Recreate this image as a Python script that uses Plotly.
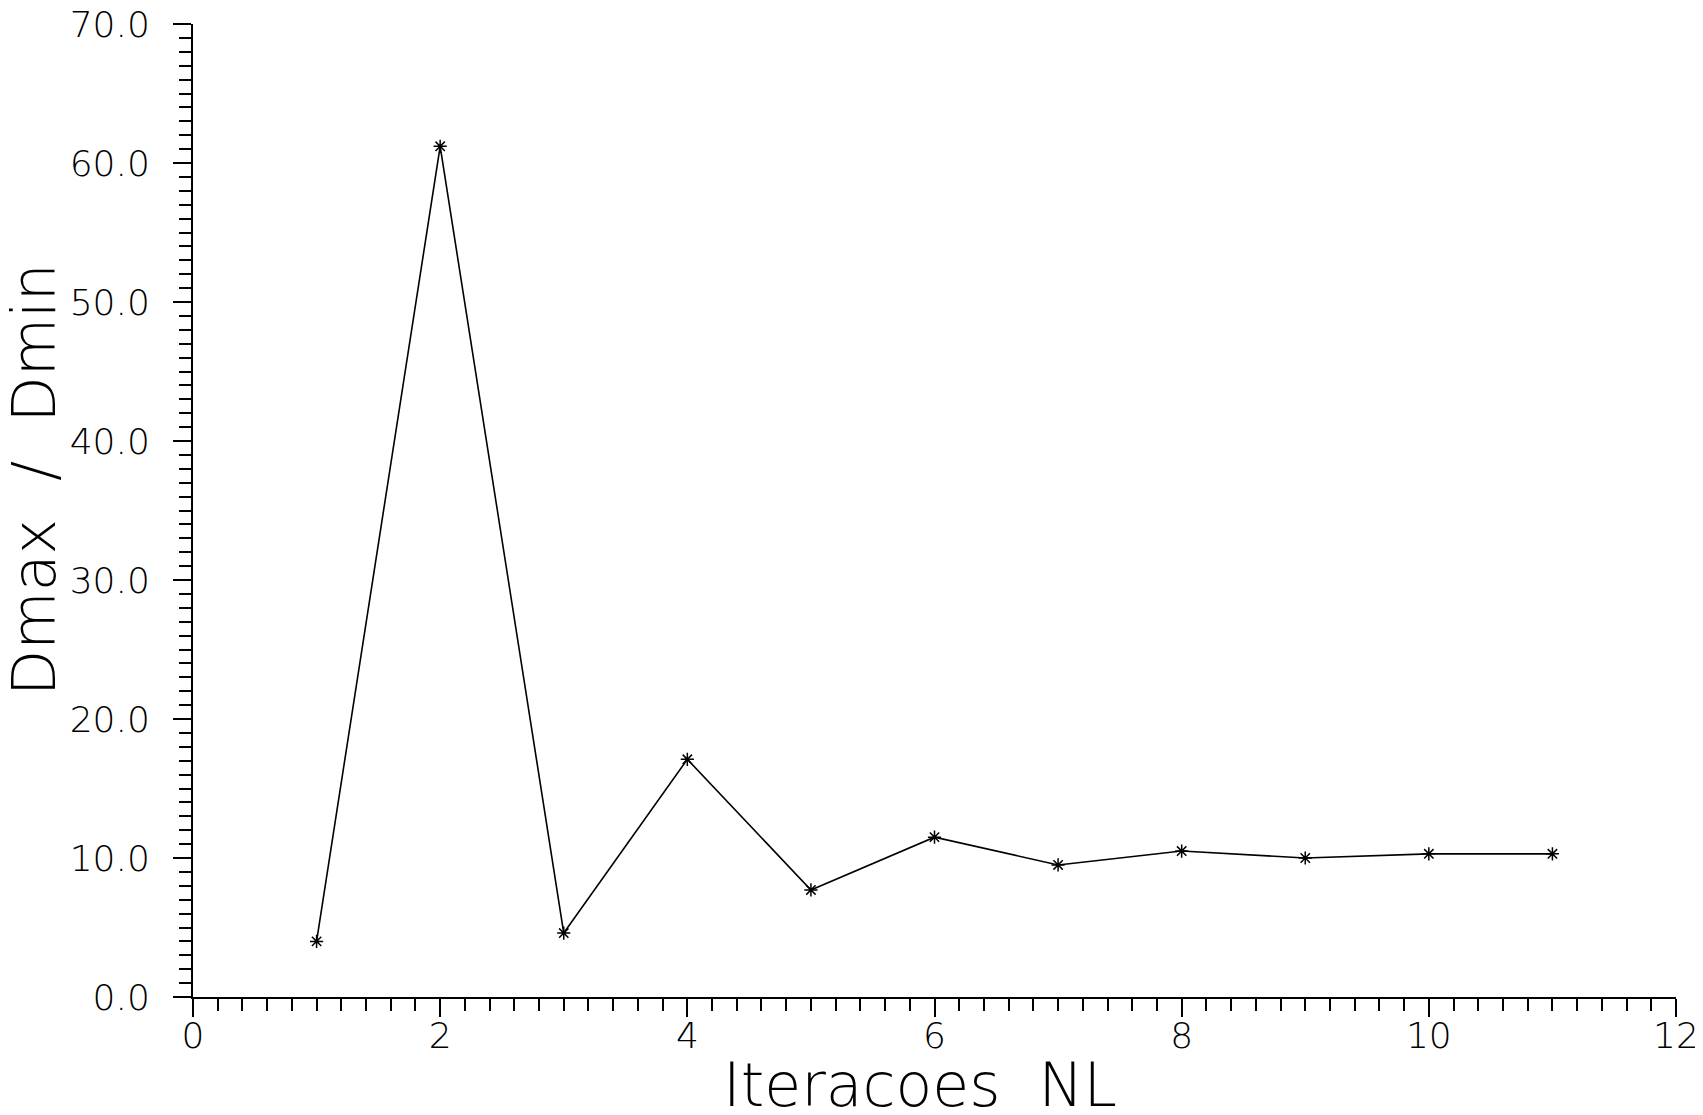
import plotly.graph_objects as go

iterations = [1, 2, 3, 4, 5, 6, 7, 8, 9, 10, 11]
dmax_dmin = [4.0, 61.2, 4.6, 17.1, 7.7, 11.5, 9.5, 10.5, 10.0, 10.3, 10.3]

x_ticks = [0, 2, 4, 6, 8, 10, 12]
y_ticks = [0, 10, 20, 30, 40, 50, 60, 70]
y_tick_labels = ["0.0", "10.0", "20.0", "30.0", "40.0", "50.0", "60.0", "70.0"]

x_title = "Iteracoes  NL"
y_title = "Dmax  /  Dmin"

# plot-area edges on the page (px)
L, R, T, B = 193, 1676, 24, 997

fig = go.Figure()
fig.add_trace(go.Scatter(
    x=iterations, y=dmax_dmin, mode="lines+markers",
    line=dict(color="black", width=1.6),
    marker=dict(symbol="asterisk-open", size=11, color="black",
                line=dict(color="black", width=1.5)),
    showlegend=False, hoverinfo="skip",
))

tickfont = dict(family="DejaVu Sans", size=36, color="black", weight=200)

fig.update_layout(
    width=1703, height=1115,
    paper_bgcolor="white", plot_bgcolor="white",
    margin=dict(l=L - 8, r=1703 + 8 - R, t=T - 8, b=1115 + 8 - B, autoexpand=False),
    xaxis=dict(
        range=[0, 12], tickmode="array", tickvals=x_ticks,
        ticktext=[str(v) for v in x_ticks], automargin=False,
        ticklabeloverflow="allow",
        showgrid=False, zeroline=False, showline=True, linecolor="black", linewidth=2,
        ticks="outside", ticklen=18, tickwidth=2, tickcolor="black",
        tickfont=tickfont, ticklabelstandoff=-12,
        minor=dict(dtick=0.2, ticks="outside", ticklen=12, tickwidth=2,
                   tickcolor="black", showgrid=False),
    ),
    yaxis=dict(
        range=[0, 70], tickmode="array", tickvals=y_ticks, ticktext=y_tick_labels,
        automargin=False, ticklabeloverflow="allow",
        showgrid=False, zeroline=False, showline=True, linecolor="black", linewidth=2,
        ticks="outside", ticklen=18, tickwidth=2, tickcolor="black",
        tickfont=tickfont, ticklabelstandoff=16,
        minor=dict(dtick=1, ticks="outside", ticklen=12, tickwidth=2,
                   tickcolor="black", showgrid=False),
    ),
    annotations=[
        dict(text=x_title, xref="paper", yref="paper",
             x=(920 - L) / (R - L), y=-(1085 - B) / (B - T),
             xanchor="center", yanchor="middle", showarrow=False,
             font=dict(family="DejaVu Sans", size=60, color="black", weight=200)),
        dict(text=y_title, xref="paper", yref="paper",
             x=-(L - 34) / (R - L), y=(B - 480) / (B - T),
             xanchor="center", yanchor="middle", textangle=-90, showarrow=False,
             font=dict(family="DejaVu Sans", size=60, color="black", weight=200)),
    ],
)

fig.write_html("out.html")
